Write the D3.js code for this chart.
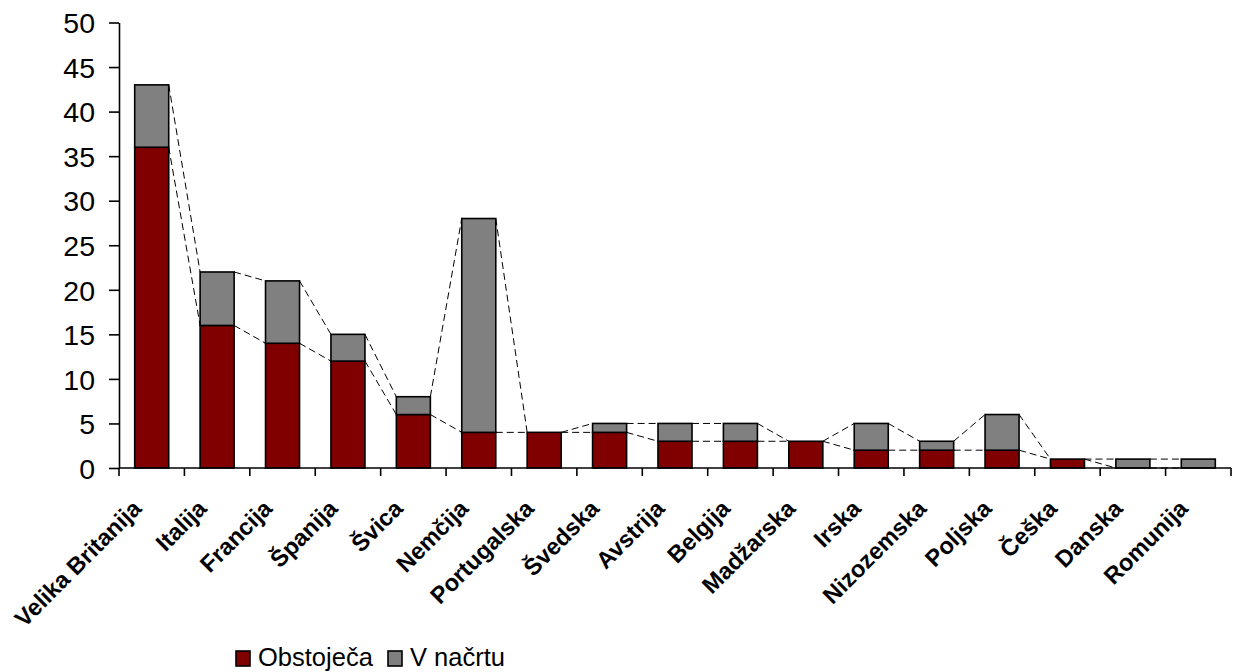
<!DOCTYPE html>
<html>
<head>
<meta charset="utf-8">
<script src="https://cdn.jsdelivr.net/npm/d3@7"></script>
<style>
  html, body { margin: 0; padding: 0; background: #fff; }
  svg { display: block; }
  text { font-family: Arial, "Liberation Sans", sans-serif; }
</style>
</head>
<body>
<svg id="chart" width="1234" height="672"></svg>
<script>
// Countries on the category axis
const categories = [
  "Velika Britanija", "Italija", "Francija", "Španija", "Švica", "Nemčija",
  "Portugalska", "Švedska", "Avstrija", "Belgija", "Madžarska", "Irska",
  "Nizozemska", "Poljska", "Češka", "Danska", "Romunija"
];
// Existing facilities (bottom segment)
const existing = [36, 16, 14, 12, 6, 4, 4, 4, 3, 3, 3, 2, 2, 2, 1, 0, 0];
// Planned facilities (stacked on top)
const planned  = [7, 6, 7, 3, 2, 24, 0, 1, 2, 2, 0, 3, 1, 4, 0, 1, 1];
const seriesNames = ["Obstoječa", "V načrtu"];
const seriesColors = ["#800000", "#808080"];
const yTicks = [0, 5, 10, 15, 20, 25, 30, 35, 40, 45, 50];

const svg = d3.select("#chart");
const plot = { left: 119, right: 1231, top: 22.5, bottom: 468 };

const x = d3.scaleBand()
  .domain(categories)
  .range([plot.left, plot.right])
  .paddingInner(0.48)
  .paddingOuter(0.24);

const y = d3.scaleLinear()
  .domain([0, 50])
  .range([plot.bottom, plot.top]);

const rows = categories.map((c, i) => ({ cat: c, existing: existing[i], planned: planned[i] }));
const stacked = d3.stack().keys(["existing", "planned"])(rows);

// Stacked columns
const g = svg.append("g");
stacked.forEach((layer, li) => {
  g.append("g")
    .selectAll("rect")
    .data(layer.filter(d => d[1] > d[0]))
    .join("rect")
    .attr("x", d => x(d.data.cat))
    .attr("width", x.bandwidth())
    .attr("y", d => y(d[1]))
    .attr("height", d => y(d[0]) - y(d[1]))
    .attr("fill", seriesColors[li])
    .attr("stroke", "#000")
    .attr("stroke-width", 1.6);
});

// Dashed series lines joining the tops of each stack level between neighbouring columns
const lines = svg.append("g")
  .attr("fill", "none")
  .attr("stroke", "#000")
  .attr("stroke-width", 1)
  .attr("stroke-dasharray", "7,4");
stacked.forEach(layer => {
  for (let i = 0; i < layer.length - 1; i++) {
    const a = layer[i], b = layer[i + 1];
    lines.append("line")
      .attr("x1", x(a.data.cat) + x.bandwidth())
      .attr("y1", y(a[1]))
      .attr("x2", x(b.data.cat))
      .attr("y2", y(b[1]));
  }
});

// Value axis
const yAxis = svg.append("g")
  .attr("transform", `translate(${plot.left},0)`)
  .call(d3.axisLeft(y).tickValues(yTicks).tickSize(10).tickPadding(14).tickSizeOuter(0));
yAxis.select(".domain").attr("stroke", "#000").attr("stroke-width", 1.6);
yAxis.selectAll(".tick line").attr("stroke", "#000").attr("stroke-width", 1.6);
yAxis.selectAll(".tick text")
  .attr("font-size", 28.5)
  .attr("fill", "#000")
  .attr("dy", "0.36em");

// Category axis: baseline with ticks on column boundaries
const step = x.step();
const bounds = d3.range(categories.length + 1).map(i => x(categories[0]) - step * 0.24 + i * step);
const xAxis = svg.append("g");
xAxis.append("line")
  .attr("x1", plot.left).attr("x2", bounds[bounds.length - 1])
  .attr("y1", plot.bottom).attr("y2", plot.bottom)
  .attr("stroke", "#000").attr("stroke-width", 1.6);
xAxis.selectAll("line.tk")
  .data(bounds)
  .join("line")
  .attr("class", "tk")
  .attr("x1", d => d).attr("x2", d => d)
  .attr("y1", plot.bottom).attr("y2", plot.bottom + 8)
  .attr("stroke", "#000").attr("stroke-width", 1.6);
xAxis.selectAll("text")
  .data(categories)
  .join("text")
  .attr("transform", d => `translate(${x(d) + x.bandwidth() / 2 - 9},${plot.bottom + 42}) rotate(-45)`)
  .attr("text-anchor", "end")
  .attr("font-size", 23.5)
  .attr("font-weight", "bold")
  .attr("fill", "#000")
  .text(d => d);

// Legend
const legend = svg.append("g").attr("transform", "translate(236,650)");
const legendItems = [
  { name: seriesNames[0], color: seriesColors[0], dx: 0 },
  { name: seriesNames[1], color: seriesColors[1], dx: 152 }
];
legendItems.forEach(it => {
  const li = legend.append("g").attr("transform", `translate(${it.dx},0)`);
  li.append("rect")
    .attr("x", 0).attr("y", 1)
    .attr("width", 14).attr("height", 15)
    .attr("fill", it.color)
    .attr("stroke", "#000").attr("stroke-width", 1.6);
  li.append("text")
    .attr("x", 22).attr("y", 16)
    .attr("font-size", 25.5)
    .attr("fill", "#000")
    .text(it.name);
});
</script>
</body>
</html>
